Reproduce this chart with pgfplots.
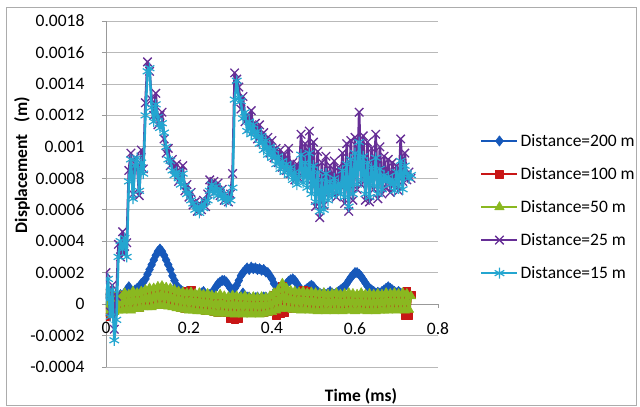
\documentclass[border=0pt]{standalone}
\usepackage{fontspec}
\setmainfont{Carlito}
\usepackage{pgfplots}
\pgfplotsset{compat=1.18}
\usepackage{pgfplotstable}

\definecolor{c200}{RGB}{22,88,186}
\definecolor{c100}{RGB}{200,22,22}
\definecolor{c50}{RGB}{138,184,32}
\definecolor{c25}{RGB}{102,46,150}
\definecolor{c15}{RGB}{36,166,208}
\newcommand\cf{\fontsize{17.5}{21}\selectfont}

% displacement in units of 1e-4 m, time in ms
\pgfplotstableread{
t g50 r100 p25 c15
0.000 -0.4 -0.8 2.0 0.3
0.005 0.6 0.7 0.8 1.6
0.010 -0.6 -0.5 -0.5 -0.8
0.015 0.5 0.35 1.2 0.9
0.020 -0.5 -0.4 -1.6 -2.3
0.025 0.6 0.45 0.5 -1.0
0.030 -0.4 -0.3 3.8 3.0
0.035 0.5 0.35 3.0 4.0
0.040 -0.4 -0.3 4.6 3.5
0.045 0.7 0.55 3.2 4.2
0.050 -0.3 -0.2 3.9 3.0
0.055 0.6 0.45 8.5 7.8
0.060 -0.4 -0.3 9.6 9.2
0.065 0.8 0.65 7.0 6.7
0.070 -0.3 -0.2 9.3 8.8
0.075 0.7 0.55 8.8 9.3
0.080 -0.3 -0.2 6.9 7.2
0.085 0.8 0.65 9.8 9.0
0.090 -0.2 -0.1 8.6 8.3
0.095 0.9 0.75 12.8 12.0
0.100 -0.2 -0.1 15.4 14.8
0.105 1.0 0.85 14.8 15.0
0.110 -0.2 -0.1 13.0 12.5
0.115 1.0 0.85 12.0 11.6
0.120 -0.1 0.0 13.4 12.7
0.125 1.1 0.95 11.4 11.9
0.130 -0.1 0.0 12.0 11.2
0.135 1.15 1.0 12.2 11.5
0.140 -0.1 0.0 10.5 10.9
0.145 1.05 0.9 9.6 10.0
0.150 -0.15 -0.05 9.9 9.2
0.155 1.0 0.85 8.8 9.1
0.160 -0.2 -0.1 9.2 8.5
0.165 0.9 0.75 8.6 8.2
0.170 -0.25 -0.15 8.9 8.4
0.175 0.8 0.65 7.8 8.0
0.180 -0.3 -0.2 8.4 7.6
0.185 0.75 0.6 8.8 8.3
0.190 -0.35 -0.25 7.2 7.5
0.195 0.7 0.85 7.6 7.0
0.200 -0.4 -0.3 6.8 7.1
0.205 0.75 0.9 7.1 6.6
0.210 -0.4 -0.3 6.3 6.4
0.215 0.65 0.5 6.5 6.0
0.220 -0.45 -0.35 5.9 6.2
0.225 0.7 0.55 6.4 5.8
0.230 -0.45 -0.35 6.0 6.3
0.235 0.6 0.45 6.6 6.1
0.240 -0.5 -0.4 6.2 6.5
0.245 0.65 0.5 7.0 6.6
0.250 -0.5 -0.4 7.9 7.2
0.255 0.55 0.4 7.4 7.6
0.260 -0.55 -0.45 7.8 7.0
0.265 0.5 0.35 7.2 7.5
0.270 -0.6 -0.5 7.7 6.9
0.275 0.6 0.45 6.9 7.3
0.280 -0.55 -0.45 7.3 6.7
0.285 0.5 0.35 6.6 7.0
0.290 -0.6 -0.5 6.9 6.5
0.295 0.45 0.3 6.5 6.8
0.300 -0.6 -0.9 7.0 6.6
0.305 0.55 0.4 8.3 7.4
0.310 -0.65 -0.95 14.7 13.0
0.315 0.5 0.35 14.3 14.2
0.320 -0.6 -0.9 13.8 13.1
0.325 0.45 0.3 12.4 12.9
0.330 -0.65 -0.55 13.2 11.8
0.335 0.5 0.35 11.6 12.2
0.340 -0.6 -0.5 12.0 11.0
0.345 0.4 0.25 11.2 11.6
0.350 -0.65 -0.55 12.3 10.8
0.355 0.45 0.3 11.0 11.4
0.360 -0.6 -0.5 11.5 10.6
0.365 0.4 0.25 10.5 11.0
0.370 -0.65 -0.55 11.4 10.2
0.375 0.45 0.3 10.3 10.7
0.380 -0.6 -0.5 10.9 9.8
0.385 0.4 0.25 10.0 10.4
0.390 -0.55 -0.45 10.6 9.5
0.395 0.5 0.35 9.6 10.0
0.400 -0.5 -0.4 10.4 9.3
0.405 0.7 0.55 9.3 9.8
0.410 -0.4 -0.7 9.9 8.9
0.415 0.9 0.75 9.0 9.4
0.420 -0.3 -0.6 9.8 8.6
0.425 1.3 1.15 8.7 9.1
0.430 -0.25 -0.55 9.5 8.4
0.435 1.0 0.85 8.5 8.9
0.440 -0.3 -0.2 9.9 8.2
0.445 0.85 0.7 8.3 8.7
0.450 -0.35 -0.25 9.0 7.9
0.455 0.8 0.65 7.9 8.4
0.460 -0.35 -0.25 8.9 7.6
0.465 0.75 0.6 8.0 8.1
0.470 -0.4 -0.3 10.8 9.5
0.475 0.8 0.9 8.4 7.7
0.480 -0.35 -0.25 10.2 9.0
0.485 0.7 0.8 8.2 7.4
0.490 -0.4 -0.3 11.0 9.6
0.495 0.75 0.6 7.6 7.0
0.500 -0.4 -0.3 10.3 8.8
0.505 0.7 0.55 6.2 6.5
0.510 -0.45 -0.35 9.7 8.4
0.515 0.65 0.5 5.5 5.9
0.520 -0.4 -0.3 9.0 7.9
0.525 0.7 0.55 6.3 6.0
0.530 -0.45 -0.35 9.4 8.3
0.535 0.6 0.45 7.0 6.6
0.540 -0.4 -0.3 8.8 7.8
0.545 0.65 0.5 7.2 6.9
0.550 -0.45 -0.35 9.1 8.0
0.555 0.7 0.55 6.8 7.1
0.560 -0.4 -0.3 8.7 7.7
0.565 0.6 0.45 7.5 7.0
0.570 -0.45 -0.35 9.6 8.5
0.575 0.65 0.5 6.4 6.8
0.580 -0.4 -0.3 10.2 8.9
0.585 0.7 0.55 5.9 6.2
0.590 -0.4 -0.3 10.4 9.2
0.595 0.65 0.5 6.6 7.0
0.600 -0.45 -0.35 10.6 9.6
0.605 0.6 0.45 7.3 7.6
0.610 -0.4 -0.3 12.2 10.3
0.615 0.7 0.55 7.6 7.9
0.620 -0.4 -0.3 10.7 9.4
0.625 0.6 0.45 6.6 7.0
0.630 -0.45 -0.35 10.3 9.0
0.635 0.65 0.5 6.5 6.8
0.640 -0.4 -0.3 9.9 8.7
0.645 0.6 0.45 7.3 7.5
0.650 -0.45 -0.35 10.8 9.3
0.655 0.65 0.5 6.7 7.0
0.660 -0.4 -0.3 10.0 8.6
0.665 0.6 0.45 7.0 7.3
0.670 -0.4 -0.3 9.4 8.2
0.675 0.7 0.55 7.4 7.8
0.680 -0.4 -0.3 9.2 8.1
0.685 0.65 0.5 7.1 7.6
0.690 -0.35 -0.25 9.0 7.9
0.695 0.7 0.55 7.6 7.2
0.700 -0.4 -0.3 8.8 8.4
0.705 0.65 0.5 7.2 7.5
0.710 -0.35 -0.25 10.5 9.1
0.715 0.7 0.55 7.8 7.3
0.720 -0.4 -0.7 9.6 8.8
0.725 0.65 0.85 7.9 8.3
0.730 -0.35 -0.7 8.4 8.0
0.735 0.5 0.6 8.0 8.2
}\disp

\begin{document}
\begin{tikzpicture}
\useasboundingbox (0pt,0pt) rectangle (640pt,-407pt);
\draw[gray!65, line width=0.8pt] (6pt,-7pt) rectangle (636pt,-405pt);
\begin{axis}[
  at={(106pt,-367pt)}, anchor=south west,
  scale only axis, width=332pt, height=346pt,
  xmin=0, xmax=0.8, ymin=-4, ymax=18,
  axis x line=middle, axis y line=left,
  hide obscured x ticks=false,
  clip marker paths=true,
  axis line style={-, gray!80, line width=0.8pt},
  xtick={0,0.2,0.4,0.6,0.8}, xticklabels={0,0.2,0.4,0.6,0.8},
  ytick={-4,-2,0,2,4,6,8,10,12,14,16,18},
  yticklabels={-0.0004,-0.0002,0,0.0002,0.0004,0.0006,0.0008,0.001,0.0012,0.0014,0.0016,0.0018},
  tick align=outside, major tick length=4pt,
  tick style={gray!80, line width=0.8pt},
  ymajorgrids, grid style={gray!55, line width=0.8pt},
  /pgf/number format/assume math mode=true,
  tick label style={font=\cf, text=black},
  yticklabel style={xshift=-14pt},
  xticklabel style={yshift=-11pt},
  every axis plot/.append style={line width=2.5pt, line join=round},
  legend style={at={(axis description cs:1.1175,0.685)}, anchor=north west,
    draw=none, fill=none, font=\cf, row sep=15.5pt, cells={anchor=west}},
  legend image code/.code={\draw[mark repeat=2,mark phase=2,#1]
    plot coordinates {(0pt,0pt)(18pt,0pt)(36pt,0pt)};},
]
\addplot[c200, mark=diamond*, mark size=5.2pt, mark options={solid, fill=c200, line width=0.5pt}] coordinates {
(0,0.3)(0.005,0.5)(0.01,0.2)(0.015,0.6)(0.02,0.4)(0.025,0.5)(0.03,0.3)(0.035,0.6)(0.04,0.5)(0.045,0.7)
(0.05,0.9)(0.055,1.1)(0.06,0.8)(0.065,0.7)(0.07,0.9)(0.075,1.0)(0.08,1.1)(0.085,1.3)(0.09,1.4)(0.095,1.6)
(0.1,1.9)(0.105,2.2)(0.11,2.5)(0.115,2.8)(0.12,3.1)(0.125,3.35)(0.13,3.5)(0.135,3.35)(0.14,3.1)(0.145,2.8)
(0.15,2.5)(0.155,2.2)(0.16,1.8)(0.165,1.5)(0.17,1.2)(0.175,1.0)(0.18,0.9)(0.185,0.8)(0.19,0.7)(0.195,0.8)
(0.2,0.7)(0.205,0.6)(0.21,0.7)(0.215,0.6)(0.22,0.5)(0.225,0.6)(0.23,0.7)(0.235,0.8)(0.24,0.6)(0.245,0.5)
(0.25,0.6)(0.255,0.7)(0.26,0.9)(0.265,1.1)(0.27,1.3)(0.275,1.4)(0.28,1.5)(0.285,1.5)(0.29,1.4)(0.295,1.2)
(0.3,1.0)(0.305,0.9)(0.31,1.0)(0.315,1.2)(0.32,1.5)(0.325,1.8)(0.33,2.0)(0.335,2.15)(0.34,2.3)(0.345,2.2)
(0.35,2.35)(0.355,2.25)(0.36,2.3)(0.365,2.2)(0.37,2.25)(0.375,2.15)(0.38,2.2)(0.385,2.05)(0.39,2.0)(0.395,1.8)
(0.4,1.6)(0.405,1.3)(0.41,0.9)(0.405,0.5)(0.395,0.4)(0.385,0.45)(0.375,0.4)(0.365,0.45)(0.355,0.4)(0.345,0.45)
(0.335,0.5)(0.33,0.7)(0.34,0.45)(0.36,0.4)(0.38,0.45)(0.4,0.4)(0.41,0.5)(0.415,0.9)(0.42,1.0)(0.425,0.9)
(0.43,1.1)(0.435,1.3)(0.44,1.45)(0.445,1.55)(0.45,1.6)(0.455,1.5)(0.46,1.3)(0.465,1.1)(0.47,0.9)(0.475,0.8)
(0.48,0.9)(0.485,1.0)(0.49,1.1)(0.495,1.2)(0.5,1.1)(0.505,0.9)(0.51,0.8)(0.515,0.7)(0.52,0.6)(0.525,0.7)
(0.53,0.6)(0.535,0.7)(0.54,0.8)(0.545,0.7)(0.55,0.6)(0.555,0.7)(0.56,0.8)(0.565,0.9)(0.57,1.0)(0.575,1.1)
(0.58,1.3)(0.585,1.5)(0.59,1.7)(0.595,1.85)(0.6,2.0)(0.605,2.0)(0.61,1.9)(0.615,1.75)(0.62,1.55)(0.625,1.35)
(0.63,1.15)(0.635,1.0)(0.64,0.9)(0.645,0.8)(0.65,0.7)(0.655,0.75)(0.66,0.7)(0.665,0.8)(0.67,0.9)(0.675,1.0)
(0.68,1.1)(0.685,1.0)(0.69,0.9)(0.695,0.8)(0.7,0.7)(0.705,0.8)(0.71,0.7)(0.715,0.6)(0.72,0.5)(0.725,0.4)
};
\addplot[c100, mark=square*, mark size=3.8pt, mark options={solid, fill=c100, line width=0.5pt}] table[x=t, y=r100] {\disp};
\addplot[c50, mark=triangle*, mark size=5.5pt, mark options={solid, fill=c50, line width=0.5pt}] table[x=t, y=g50] {\disp};
\addplot[c25, mark=x, mark size=6pt, mark options={solid, line width=1.3pt}] table[x=t, y=p25] {\disp};
\addplot[c15, mark=asterisk, mark size=5.5pt, mark options={solid, line width=1.2pt}] table[x=t, y=c15] {\disp};
\legend{Distance=200 m, Distance=100 m, Distance=50 m, Distance=25 m, Distance=15 m}
\end{axis}
\node[font=\cf\bfseries] at (361pt,-396pt) {Time (ms)};
\node[font=\cf\bfseries, rotate=90] at (22pt,-165pt) {Displacement\ \ \ (m)};
\end{tikzpicture}
\end{document}
